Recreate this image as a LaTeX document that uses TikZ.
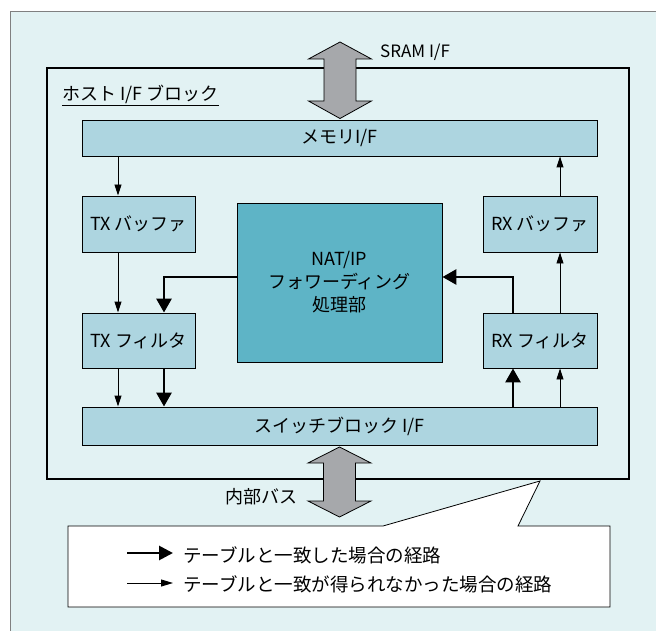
\documentclass[tikz,border=0pt]{standalone}
\usepackage{fontspec}
\setmainfont{Noto Sans CJK JP}
\usetikzlibrary{arrows.meta}
\definecolor{bgc}{HTML}{E2F2F3}
\definecolor{boxc}{HTML}{ADD5E0}
\definecolor{natc}{HTML}{5EB4C6}
\definecolor{fatc}{HTML}{A6A8AB}
\definecolor{bgline}{HTML}{808080}
\tikzset{
  blk/.style={draw=black, line width=0.9pt, fill=boxc, inner sep=0pt, align=center},
  thinarr/.style={draw=black, line width=0.9pt, -{Triangle[width=7pt,length=11pt]}},
  thickarr/.style={draw=black, line width=2.8pt, -{Triangle[width=15pt,length=14pt]}},
  fatarr/.style={draw=black, line width=0.8pt, fill=fatc},
  lbl/.style={inner sep=0pt},
  legtxt/.style={inner sep=0pt, font=\fontsize{18.5}{23}\selectfont},
}
\begin{document}
\begin{tikzpicture}[x=1pt,y=-1pt,font=\fontsize{18}{23}\selectfont]
\useasboundingbox (0,0) rectangle (656,631);
% background
\draw[bgline, line width=0.8pt, fill=bgc] (10,11) rectangle (670,645);
% host block
\draw[black, line width=2.2pt] (47,68) rectangle (629,479);
\node[lbl, anchor=west] (hostlbl) at (62,95) {\underline{ホスト I/F ブロック}};
% blocks
\node[blk, minimum width=515pt, minimum height=36pt] (mem) at (339.5,138) {メモリI/F};
\node[blk, minimum width=113pt, minimum height=56pt] (txb) at (138.5,224) {TX バッファ};
\node[blk, minimum width=113pt, minimum height=55pt] (txf) at (138.5,340.5) {TX フィルタ};
\node[blk, fill=natc, minimum width=205pt, minimum height=159pt] (nat) at (339.5,282.5) {NAT/IP\\フォワーディング\\処理部};
\node[blk, minimum width=114pt, minimum height=56pt] (rxb) at (540,224) {RX バッファ};
\node[blk, minimum width=114pt, minimum height=55pt] (rxf) at (540,340.5) {RX フィルタ};
\node[blk, minimum width=515pt, minimum height=38pt] (sw) at (339.5,426) {スイッチブロック I/F};
% guide coordinates
\coordinate (xa) at (118,0);
\coordinate (xb) at (164,0);
\coordinate (xc) at (513,0);
\coordinate (xd) at (560,0);
\coordinate (yn) at (0,277);
% thin arrows
\draw[thinarr] (mem.south -| xa) -- (txb.north -| xa);
\draw[thinarr] (txb.south -| xa) -- (txf.north -| xa);
\draw[thinarr] (txf.south -| xa) -- (sw.north -| xa);
\draw[thinarr] (sw.north -| xd) -- (rxf.south -| xd);
\draw[thinarr] (rxf.north -| xd) -- (rxb.south -| xd);
\draw[thinarr] (rxb.north -| xd) -- (mem.south -| xd);
% thick arrows
\draw[thickarr] (txf.south -| xb) -- (sw.north -| xb);
\draw[thickarr] (nat.west |- yn) -| (txf.north -| xb);
\draw[thickarr] (sw.north -| xc) -- (rxf.south -| xc);
\draw[thickarr] (rxf.north -| xc) |- (nat.east |- yn);
% fat double arrows
\draw[fatarr] (340,42) -- (371.5,59) -- (356,59) -- (356,101) -- (371.5,101) -- (340,118.5)
  -- (308.5,101) -- (324,101) -- (324,59) -- (308.5,59) -- cycle;
\node[lbl, anchor=west, font=\fontsize{17}{20}\selectfont] (sram) at (380,52) {SRAM I/F};
\draw[fatarr] (339.5,447) -- (371,463) -- (355.5,463) -- (355.5,501) -- (371,501) -- (339.5,517)
  -- (308,501) -- (323.5,501) -- (323.5,463) -- (308,463) -- cycle;
\node[lbl, anchor=east] (bus) at (298,497) {内部バス};
% callout
\draw[black, line width=0.8pt, fill=white] (68,526) -- (383,526) -- (540,481) -- (518,526)
  -- (610,526) -- (610,607) -- (68,607) -- cycle;
\coordinate (l1s) at (127,553);
\coordinate (l1e) at (173,553);
\coordinate (l2s) at (127,583);
\coordinate (l2e) at (173,583);
\draw[line width=2.8pt, -{Triangle[width=14pt,length=14pt]}] (l1s) -- (l1e);
\draw[line width=0.9pt, -{Triangle[width=7pt,length=12pt]}] (l2s) -- (l2e);
\node[legtxt, anchor=west] (leg1) at (183,555) {テーブルと一致した場合の経路};
\node[legtxt, anchor=west] (leg2) at (183,584) {テーブルと一致が得られなかった場合の経路};
\end{tikzpicture}
\end{document}
